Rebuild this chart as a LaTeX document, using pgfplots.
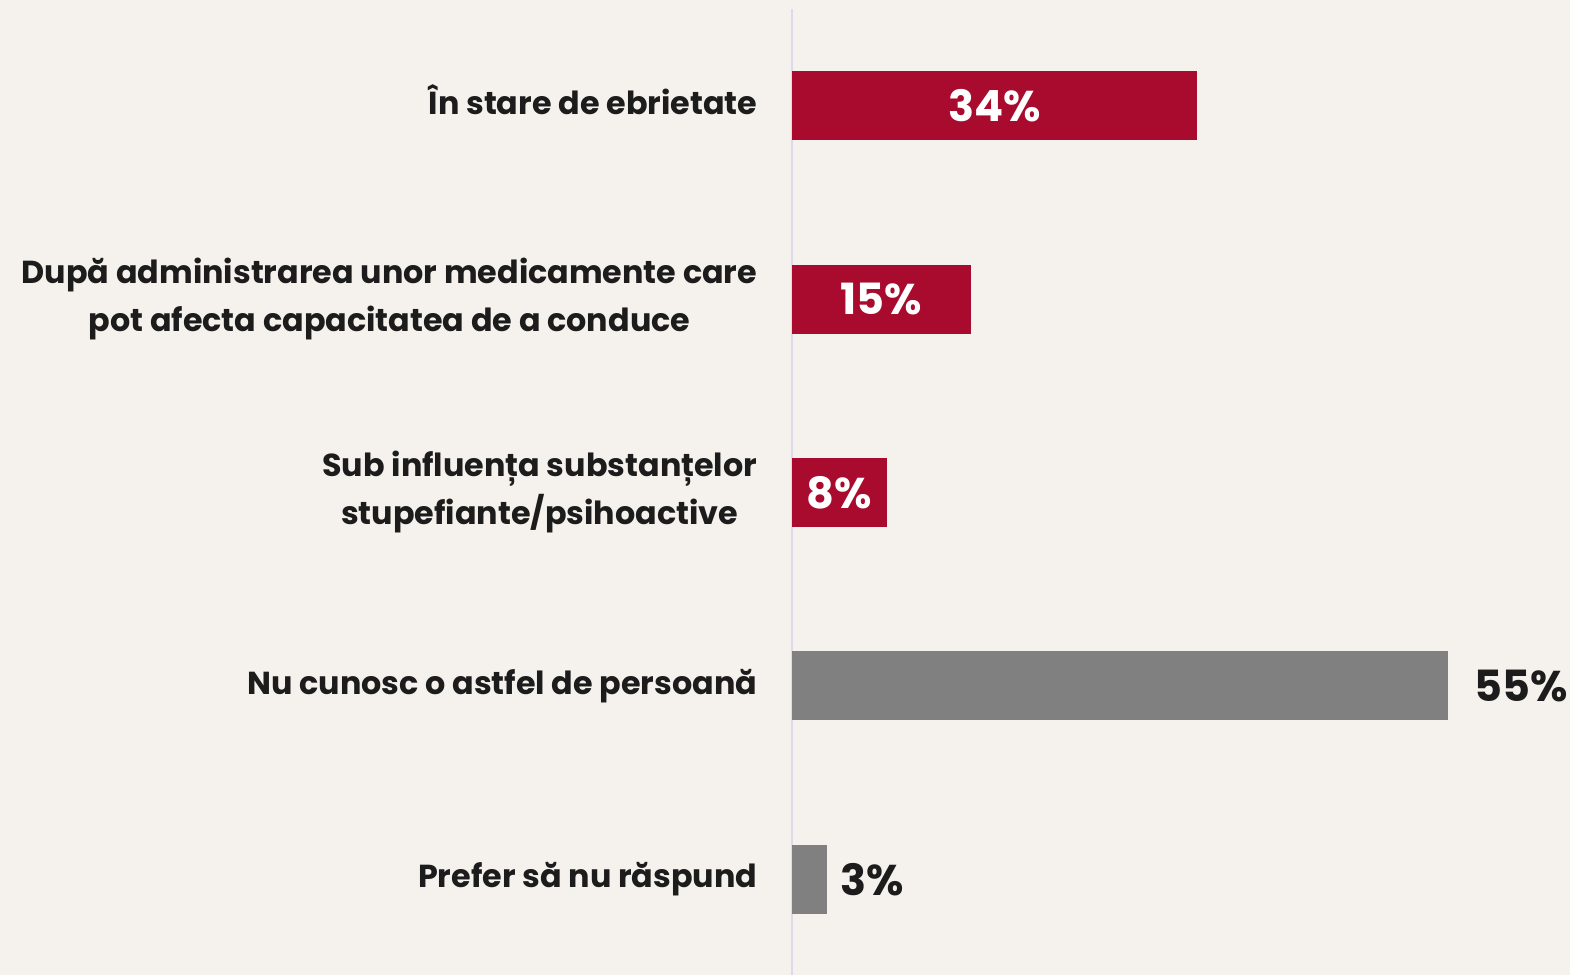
\documentclass[border=0pt]{standalone}
\usepackage{fontspec}
\setmainfont{Poppins}
\usepackage{pgfplots}
\pgfplotsset{compat=1.18}
\definecolor{bg}{HTML}{F5F2ED}
\definecolor{redbar}{HTML}{A80B2E}
\definecolor{greybar}{HTML}{808080}
\definecolor{axline}{HTML}{DCDAEA}
\definecolor{txt}{HTML}{1C1C1C}
\begin{document}
\begin{tikzpicture}[x=1pt,y=1pt]
\fill[bg] (0,0) rectangle (785,487.5);
\useasboundingbox (0,0) rectangle (785,487.5);
\begin{axis}[
  at={(395.8pt,0pt)}, anchor=south west,
  scale only axis, width=389.2pt, height=483pt,
  xmin=0, xmax=65.25, ymin=-0.494, ymax=4.499,
  clip=false,
  axis x line=none, axis y line=left,
  y axis line style={draw=axline, line width=1pt, -},
  xbar, bar width=34.5pt, bar shift=0pt,
  ytick={0,1,2,3,4},
  yticklabels={{Prefer să nu răspund},{Nu cunosc o astfel de persoană},{Sub influența substanțelor\\stupefiante/psihoactive},{După administrarea unor medicamente care\\pot afecta capacitatea de a conduce},{\smash{Î}n stare de ebrietate\vphantom{p}}},
  major tick length=0pt, ytick style={draw=none},
  yticklabel style={font=\bfseries\fontsize{15.9}{24}\selectfont, text=txt, align=center, inner sep=0pt, xshift=-17pt},
  /pgf/number format/assume math mode=true,
  point meta=x,
  visualization depends on={rawx \as \rawx},
  nodes near coords={\pgfmathprintnumber{\pgfplotspointmeta}\%},
  inlab/.style={every node near coord/.append style={font=\bfseries\fontsize{21.5}{21.5}\selectfont, text=white, anchor=center, inner sep=0pt, xshift={-2.9825pt*\rawx}}},
  outlab/.style={every node near coord/.append style={font=\bfseries\fontsize{21.5}{21.5}\selectfont, text=txt, anchor=west, inner sep=0pt, xshift=#1}},
]
\addplot[fill=redbar, draw=none, inlab] coordinates {(34,4)};
\addplot[fill=redbar, draw=none, inlab] coordinates {(15,3)};
\addplot[fill=redbar, draw=none, inlab] coordinates {(8,2)};
\addplot[fill=greybar, draw=none, outlab=13pt] coordinates {(55,1)};
\addplot[fill=greybar, draw=none, outlab=6.5pt] coordinates {(3,0)};
\end{axis}
\end{tikzpicture}
\end{document}
